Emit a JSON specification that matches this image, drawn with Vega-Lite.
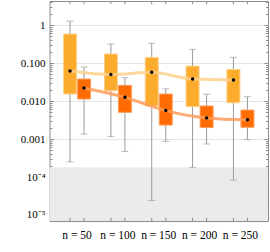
{
  "$schema": "https://vega.github.io/schema/vega-lite/v6.json",
  "width": 218.5,
  "height": 220,
  "autosize": {"type": "none"},
  "padding": {"left": 49.5, "top": 1, "right": 2, "bottom": 31},
  "background": "white",
  "config": {"view": {"stroke": "#8c8c8c", "strokeWidth": 1}, "font": "Liberation Serif"},
  "datasets": {
    "stats": [
      {"n": 50, "s": "A", "lo": 0.00025, "q1": 0.0153, "mid": 0.062, "q3": 0.58, "hi": 1.27},
      {"n": 100, "s": "A", "lo": 0.00115, "q1": 0.0187, "mid": 0.05, "q3": 0.173, "hi": 0.316},
      {"n": 150, "s": "A", "lo": 0.000024, "q1": 0.0074, "mid": 0.057, "q3": 0.141, "hi": 0.33},
      {"n": 200, "s": "A", "lo": 0.00018, "q1": 0.0071, "mid": 0.038, "q3": 0.083, "hi": 0.229},
      {"n": 250, "s": "A", "lo": 0.000083, "q1": 0.009, "mid": 0.036, "q3": 0.068, "hi": 0.141},
      {"n": 50, "s": "B", "lo": 0.00135, "q1": 0.0113, "mid": 0.022, "q3": 0.038, "hi": 0.0785},
      {"n": 100, "s": "B", "lo": 0.00047, "q1": 0.00505, "mid": 0.0125, "q3": 0.0259, "hi": 0.041},
      {"n": 150, "s": "B", "lo": 0.00087, "q1": 0.00233, "mid": 0.0056, "q3": 0.0153, "hi": 0.021},
      {"n": 200, "s": "B", "lo": 0.00074, "q1": 0.002, "mid": 0.0036, "q3": 0.0074, "hi": 0.0151},
      {"n": 250, "s": "B", "lo": 0.00096, "q1": 0.00204, "mid": 0.0032, "q3": 0.0058, "hi": 0.013}
    ],
    "band": [{"lo": 0.00000695, "hi": 0.00018}]
  },
  "layer": [
    {
      "data": {"name": "band"},
      "mark": {"type": "rect", "color": "#ebebeb"},
      "encoding": {
        "y": {
          "field": "hi", "type": "quantitative",
          "scale": {"type": "log", "domain": [0.00000695, 4.3], "nice": false, "clamp": true},
          "axis": {
            "orient": "left",
            "title": null,
            "domain": false,
            "values": [0.00001, 0.00002, 0.00003, 0.00004, 0.00005, 0.00006, 0.00007, 0.00008, 0.00009,
                       0.0001, 0.0002, 0.0003, 0.0004, 0.0005, 0.0006, 0.0007, 0.0008, 0.0009,
                       0.001, 0.002, 0.003, 0.004, 0.005, 0.006, 0.007, 0.008, 0.009,
                       0.01, 0.02, 0.03, 0.04, 0.05, 0.06, 0.07, 0.08, 0.09,
                       0.1, 0.2, 0.3, 0.4, 0.5, 0.6, 0.7, 0.8, 0.9,
                       1, 2, 3, 4],
            "labelExpr": "datum.value == 1 ? '1' : datum.value == 0.1 ? '0.100' : datum.value == 0.01 ? '0.010' : datum.value == 0.001 ? '0.001' : datum.value == 0.0001 ? '10⁻⁴' : datum.value == 0.00001 ? '10⁻⁵' : ''",
            "labelOverlap": false,
            "labelFont": "Liberation Serif",
            "labelFontSize": 11,
            "labelColor": "#000000",
            "labelPadding": 8.5,
            "grid": true,
            "gridColor": "#e4e4e4",
            "gridOpacity": {"condition": {"test": "indexof([1,0.1,0.01,0.001,0.0001,0.00001], datum.value) >= 0", "value": 1}, "value": 0},
            "tickColor": "#8c8c8c",
            "tickSize": {"condition": {"test": "indexof([1,0.1,0.01,0.001,0.0001,0.00001], datum.value) >= 0", "value": -4}, "value": -2.5}
          }
        },
        "y2": {"field": "lo"}
      }
    },
    {
      "data": {"name": "stats"},
      "mark": {"type": "rule", "color": "#9a9a9a", "strokeWidth": 1},
      "encoding": {
        "x": {
          "field": "n", "type": "ordinal",
          "scale": {"type": "band", "paddingOuter": 0.175, "paddingInner": 0},
          "axis": {"orient": "bottom", "title": null, "ticks": false, "domain": false, "grid": false,
                   "labelExpr": "'n = ' + datum.label", "labelAngle": 0, "labelFont": "Liberation Serif",
                   "labelFontSize": 11.5, "labelColor": "#000000", "labelPadding": 8}
        },
        "xOffset": {"field": "s", "type": "nominal", "scale": {"paddingOuter": 0.455, "paddingInner": 0}},
        "y": {"field": "lo", "type": "quantitative", "axis": null},
        "y2": {"field": "hi"}
      }
    },
    {
      "data": {"name": "stats"},
      "mark": {"type": "tick", "color": "#a0a0a0", "size": 7, "thickness": 1},
      "encoding": {
        "x": {"field": "n", "type": "ordinal"},
        "xOffset": {"field": "s", "type": "nominal"},
        "y": {"field": "hi", "type": "quantitative", "axis": null}
      }
    },
    {
      "data": {"name": "stats"},
      "mark": {"type": "tick", "color": "#a0a0a0", "size": 7, "thickness": 1},
      "encoding": {
        "x": {"field": "n", "type": "ordinal"},
        "xOffset": {"field": "s", "type": "nominal"},
        "y": {"field": "lo", "type": "quantitative", "axis": null}
      }
    },
    {
      "data": {"name": "stats"},
      "mark": {"type": "bar", "width": 13, "strokeWidth": 1},
      "encoding": {
        "x": {"field": "n", "type": "ordinal"},
        "xOffset": {"field": "s", "type": "nominal"},
        "y": {"field": "q1", "type": "quantitative", "axis": null},
        "y2": {"field": "q3"},
        "fill": {"field": "s", "type": "nominal", "scale": {"domain": ["A", "B"], "range": ["#fcab2c", "#ff6c02"]}, "legend": null},
        "stroke": {"field": "s", "type": "nominal", "scale": {"domain": ["A", "B"], "range": ["#fdd08a", "#ff9c5c"]}, "legend": null}
      }
    },
    {
      "data": {"name": "stats"},
      "mark": {"type": "line", "strokeWidth": 3, "opacity": 0.85, "interpolate": "monotone"},
      "encoding": {
        "x": {"field": "n", "type": "ordinal"},
        "xOffset": {"field": "s", "type": "nominal"},
        "y": {"field": "mid", "type": "quantitative", "axis": null},
        "stroke": {"field": "s", "type": "nominal", "legend": null},
        "detail": {"field": "s"}
      }
    },
    {
      "data": {"name": "stats"},
      "mark": {"type": "point", "filled": true, "color": "#000000", "size": 12, "opacity": 1},
      "encoding": {
        "x": {"field": "n", "type": "ordinal"},
        "xOffset": {"field": "s", "type": "nominal"},
        "y": {"field": "mid", "type": "quantitative", "axis": null}
      }
    },
    {
      "data": {"name": "stats"},
      "mark": {"type": "rule", "color": "#8c8c8c", "strokeWidth": 1},
      "encoding": {
        "x": {"field": "n", "type": "ordinal"},
        "xOffset": {"field": "s", "type": "nominal"},
        "y": {"datum": 4.3, "type": "quantitative", "axis": null},
        "y2": {"datum": 3.55}
      }
    },
    {
      "data": {"name": "stats"},
      "mark": {"type": "rule", "color": "#8c8c8c", "strokeWidth": 1},
      "encoding": {
        "x": {"field": "n", "type": "ordinal"},
        "xOffset": {"field": "s", "type": "nominal"},
        "y": {
          "datum": 0.00000695, "type": "quantitative",
          "axis": {
            "orient": "right",
            "title": null,
            "domain": false,
            "labels": false,
            "grid": false,
            "values": [0.00001, 0.00002, 0.00003, 0.00004, 0.00005, 0.00006, 0.00007, 0.00008, 0.00009,
                       0.0001, 0.0002, 0.0003, 0.0004, 0.0005, 0.0006, 0.0007, 0.0008, 0.0009,
                       0.001, 0.002, 0.003, 0.004, 0.005, 0.006, 0.007, 0.008, 0.009,
                       0.01, 0.02, 0.03, 0.04, 0.05, 0.06, 0.07, 0.08, 0.09,
                       0.1, 0.2, 0.3, 0.4, 0.5, 0.6, 0.7, 0.8, 0.9,
                       1, 2, 3, 4],
            "tickColor": "#8c8c8c",
            "tickSize": {"condition": {"test": "indexof([1,0.1,0.01,0.001,0.0001,0.00001], datum.value) >= 0", "value": -4}, "value": -2.5}
          }
        },
        "y2": {"datum": 0.0000084}
      }
    }
  ],
  "resolve": {"axis": {"y": "independent"}}
}
